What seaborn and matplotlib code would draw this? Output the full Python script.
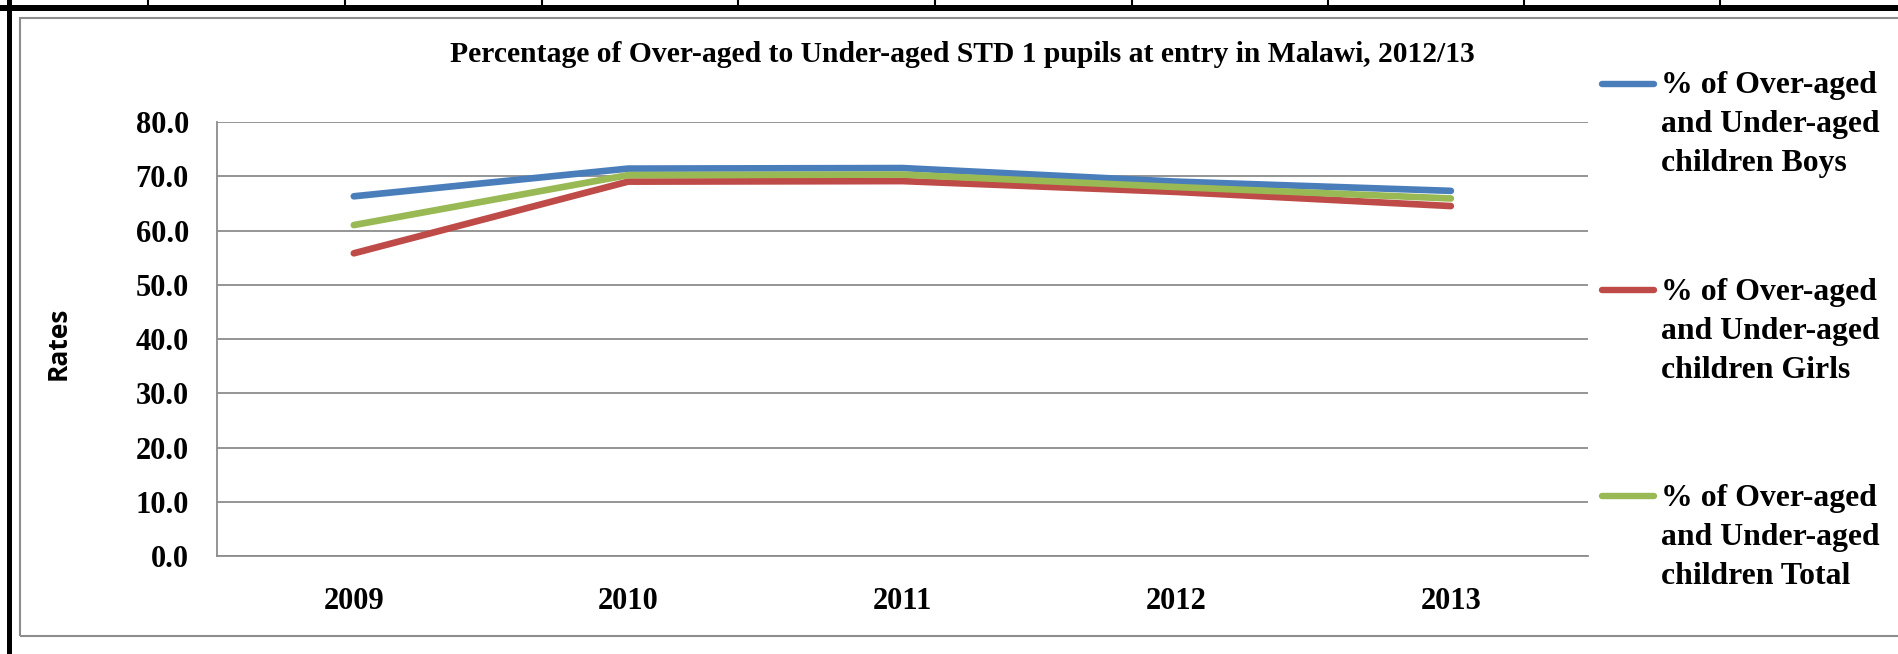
import matplotlib
matplotlib.use("Agg")
import matplotlib.pyplot as plt
from matplotlib.lines import Line2D
from matplotlib.patches import Rectangle
import seaborn as sns
import pandas as pd

# ---- data ----
years = ["2009", "2010", "2011", "2012", "2013"]
boys = [66.3, 71.4, 71.5, 69.0, 67.3]
girls = [55.8, 69.0, 69.1, 67.1, 64.5]
total = [61.0, 70.2, 70.3, 68.0, 65.9]
series_names = [
    "% of Over-aged\nand Under-aged\nchildren Boys",
    "% of Over-aged\nand Under-aged\nchildren Girls",
    "% of Over-aged\nand Under-aged\nchildren Total",
]
colors = ["#4A7EBB", "#BE4B48", "#98B954"]
title = "Percentage of Over-aged to Under-aged STD 1 pupils at entry in Malawi, 2012/13"
ylabel = "Rates"
yticks = [0, 10, 20, 30, 40, 50, 60, 70, 80]

rows = []
for name, vals in zip(series_names, [boys, girls, total]):
    for y, v in zip(years, vals):
        rows.append({"year": y, "value": v, "series": name})
df = pd.DataFrame(rows)

sns.set_theme(style="white")
plt.rcParams["font.family"] = ["Liberation Serif", "DejaVu Serif"]

W, H = 1898, 654
fig = plt.figure(figsize=(W / 100, H / 100), dpi=100)
fig.patch.set_facecolor("white")

def fx(px):
    return px / W

def fy(py):
    return 1 - py / H

ax = fig.add_axes([fx(216.7), fy(556.3), fx(1588) - fx(216.7), fy(121.9) - fy(556.3)])

sns.lineplot(data=df, x="year", y="value", hue="series", hue_order=series_names,
             palette=colors, linewidth=4.8, ax=ax, legend=False, sort=False,
             solid_capstyle="round")

ax.set_xlim(-0.5, 4.5)
ax.set_ylim(0, 80)
ax.set_yticks(yticks)
ax.set_yticklabels([f"{v:.1f}" for v in yticks])
ax.yaxis.grid(True, color="#8C8C8C", linewidth=1.3)
ax.set_axisbelow(True)
for s in ["top", "right"]:
    ax.spines[s].set_visible(False)
for s in ["left", "bottom"]:
    ax.spines[s].set_color("#8C8C8C")
    ax.spines[s].set_linewidth(1.3)
ax.tick_params(axis="both", length=0)
ax.tick_params(axis="y", pad=20)
ax.tick_params(axis="x", pad=22)
for lab in ax.get_xticklabels() + ax.get_yticklabels():
    lab.set_fontweight("bold")
    lab.set_fontsize(22)
    lab.set_color("black")
ax.set_xlabel("")
ax.set_ylabel("")

# title and axis label
fig.text(fx(962), fy(54.5), title, ha="center", va="center", fontsize=21.3,
         fontweight="bold", color="black")
fig.text(fx(58), fy(343), ylabel, ha="center", va="center", rotation=90,
         fontsize=19, fontweight="bold", family=["Open Sans", "DejaVu Sans"], color="black")

# legend (manual, handle aligned with first text line)
leg_y = [83.5, 290, 496]
for name, c, yy in zip(series_names, colors, leg_y):
    fig.add_artist(Line2D([fx(1602), fx(1654)], [fy(yy), fy(yy)], color=c,
                          linewidth=4.6, solid_capstyle="round"))
    fig.text(fx(1661), fy(yy - 12), name, ha="left", va="top", fontsize=22.9,
             fontweight="bold", linespacing=1.45, color="black")

# frame decorations
fig.add_artist(Rectangle((fx(20), fy(636)), fx(1920) - fx(20), fy(18) - fy(636),
                         fill=False, edgecolor="#8C8C8C", linewidth=1.5))
fig.add_artist(Rectangle((fx(7), 0), fx(5), 1, facecolor="black", edgecolor="none"))
fig.add_artist(Rectangle((0, fy(11)), 1, fy(5) - fy(11), facecolor="black", edgecolor="none"))
for xx in [148, 345, 542, 738, 935, 1132, 1328, 1524, 1720]:
    fig.add_artist(Line2D([fx(xx), fx(xx)], [fy(0), fy(6)], color="black", linewidth=1.5))

fig.savefig("out.png", dpi=100, facecolor="white")
